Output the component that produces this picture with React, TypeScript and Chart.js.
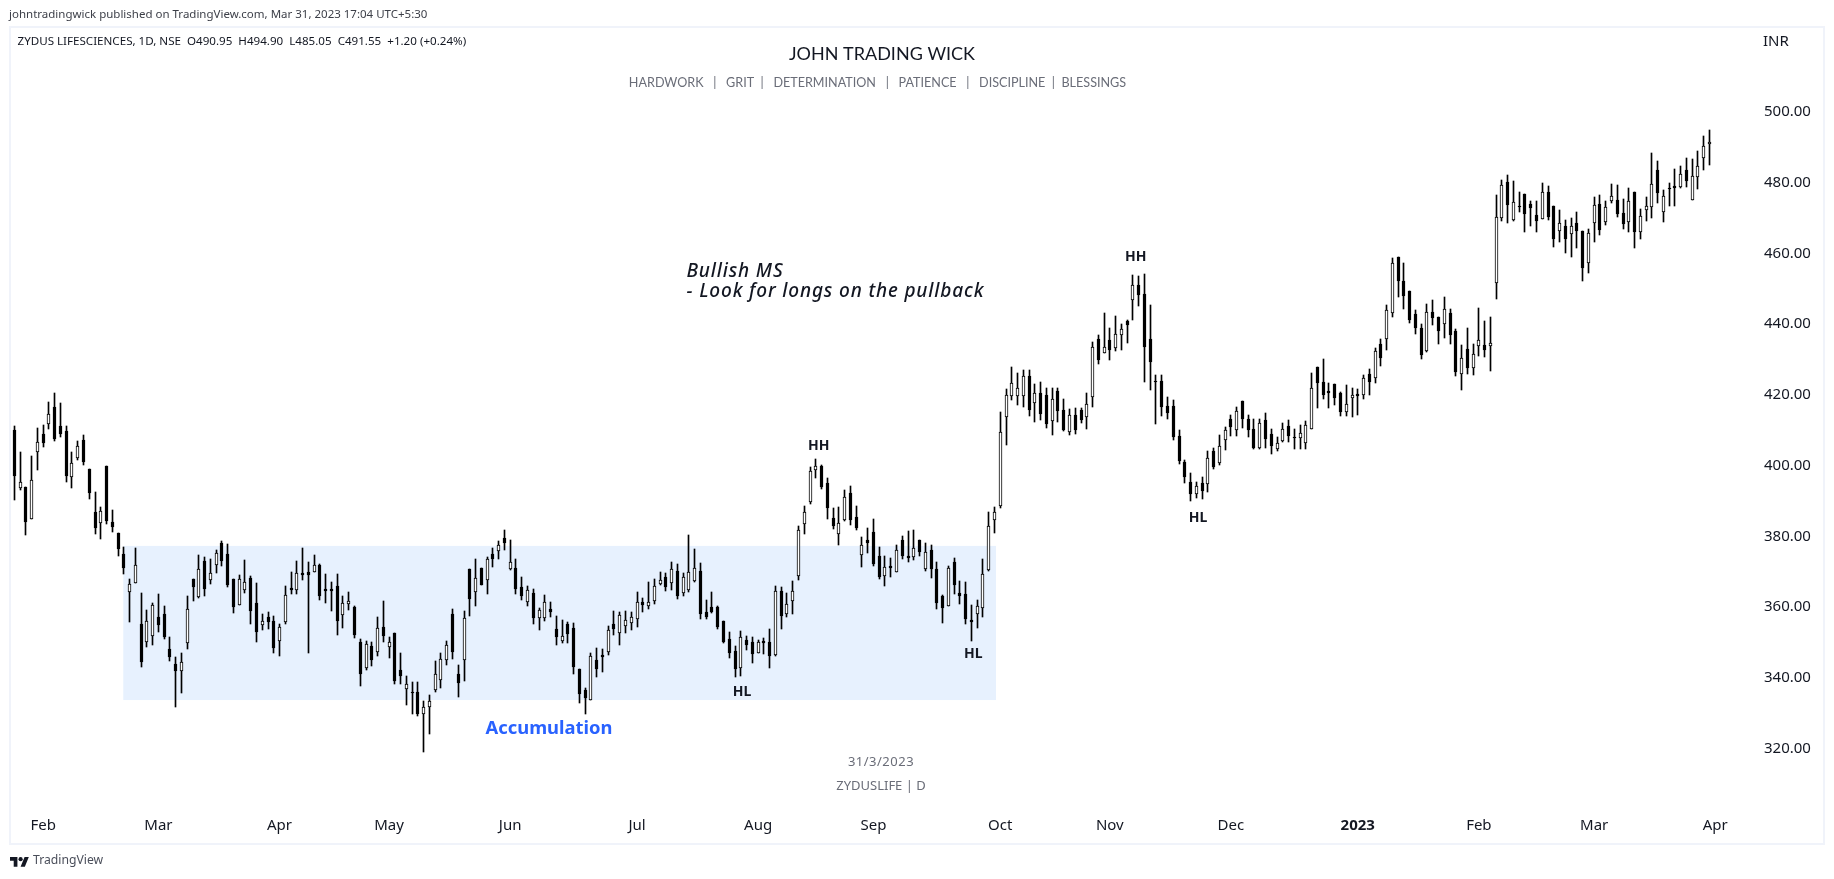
import { useEffect, useRef } from 'react'
import Chart from 'chart.js/auto'

const opens = [
  410.0, 393.7, 393.9, 385.0, 403.9, 408.9, 411.8, 416.6, 411.2, 409.8,
  396.7, 402.1, 407.2, 399.0, 386.8, 383.7, 399.9, 384.0, 380.9, 375.0,
  364.2, 366.7, 355.1, 350.0, 351.7, 357.1, 358.0, 348.1, 343.8, 341.8,
  349.8, 367.9, 362.8, 373.0, 367.6, 371.8, 378.1, 375.0, 367.9, 360.5,
  364.8, 368.2, 361.1, 354.9, 357.1, 356.0, 350.3, 355.7, 365.3, 364.8,
  369.6, 369.9, 369.9, 371.8, 365.0, 365.0, 365.9, 357.7, 360.8, 360.0,
  350.0, 342.7, 348.9, 347.2, 354.3, 348.6, 352.6, 342.1, 336.8, 335.9,
  335.9, 329.9, 331.6, 336.5, 339.3, 345.0, 358.0, 341.0, 345.0, 370.8,
  364.3, 371.0, 367.7, 375.0, 375.9, 379.5, 370.8, 371.0, 365.7, 361.4,
  364.0, 356.9, 356.9, 359.4, 353.8, 350.4, 355.2, 354.1, 342.5, 336.5,
  333.7, 345.0, 346.4, 347.3, 355.2, 352.7, 354.6, 355.5, 356.6, 361.4,
  360.3, 361.7, 366.5, 368.5, 366.8, 370.2, 364.0, 364.8, 367.4, 370.2,
  358.6, 360.0, 360.0, 356.0, 351.0, 347.6, 342.8, 350.7, 350.1, 347.0,
  350.4, 350.1, 346.4, 364.5, 358.0, 361.7, 368.8, 383.5, 389.7, 398.7,
  399.9, 395.1, 385.2, 380.6, 384.6, 392.2, 385.4, 374.7, 378.9, 381.2,
  374.4, 368.8, 371.6, 369.9, 378.9, 374.4, 374.1, 378.9, 370.7, 376.1,
  370.7, 363.1, 360.3, 372.7, 363.9, 363.7, 356.3, 358.0, 359.7, 370.4,
  384.6, 388.5, 413.7, 419.6, 419.6, 419.6, 425.3, 417.7, 420.5, 419.9,
  412.6, 421.1, 415.7, 409.5, 414.3, 415.7, 413.7, 419.4, 435.8, 431.8,
  435.5, 433.2, 436.9, 440.9, 446.8, 451.1, 448.5, 435.8, 423.9, 423.9,
  416.8, 416.8, 408.3, 401.0, 395.3, 391.9, 395.0, 394.7, 404.1, 400.7,
  407.2, 413.1, 410.0, 418.2, 413.1, 410.3, 404.9, 412.9, 408.9, 404.6,
  406.9, 411.2, 408.0, 407.8, 406.3, 410.3, 427.9, 423.6, 421.1, 423.0,
  420.5, 415.1, 419.1, 420.2, 419.9, 425.9, 424.7, 434.3, 435.8, 443.1,
  459.0, 452.2, 449.3, 442.8, 438.9, 432.4, 443.4, 442.0, 440.0, 443.1,
  438.0, 425.9, 432.9, 427.6, 433.8, 434.1, 433.8, 451.6, 470.0, 480.2,
  469.4, 473.4, 476.8, 474.0, 470.9, 469.7, 477.4, 473.4, 466.3, 467.7,
  465.5, 468.6, 466.3, 457.3, 468.6, 474.0, 468.9, 474.8, 475.1, 471.4,
  468.9, 477.4, 466.0, 472.3, 473.1, 483.6, 471.7, 478.5, 479.1, 478.8,
  483.6, 475.1, 481.6, 487.0, 490.95,
]

const closes = [
  397.1, 395.5, 384.1, 395.9, 406.7, 406.5, 414.6, 407.5, 408.9, 397.1,
  400.7, 405.5, 401.0, 392.2, 382.3, 387.1, 384.3, 382.6, 376.4, 371.0,
  366.5, 371.8, 344.4, 356.0, 360.5, 354.9, 351.5, 345.8, 341.8, 344.4,
  359.4, 365.6, 370.7, 365.0, 369.6, 375.2, 373.0, 366.2, 360.0, 367.9,
  367.0, 358.8, 352.9, 356.0, 355.7, 348.4, 354.3, 363.4, 364.8, 369.6,
  369.0, 369.0, 371.8, 363.1, 364.5, 364.5, 356.0, 361.1, 361.7, 352.0,
  341.0, 349.5, 345.0, 354.0, 351.7, 350.0, 339.0, 340.4, 338.2, 335.6,
  329.9, 331.6, 333.3, 341.0, 345.2, 349.2, 347.2, 338.4, 356.9, 362.3,
  368.2, 366.2, 373.6, 373.6, 377.6, 378.1, 372.8, 365.1, 363.1, 364.8,
  356.9, 359.2, 361.4, 358.6, 351.5, 351.8, 352.4, 343.0, 335.4, 334.3,
  346.1, 342.5, 345.9, 353.5, 353.8, 357.7, 356.3, 357.2, 361.4, 360.6,
  361.4, 366.0, 367.7, 365.7, 370.8, 363.1, 368.5, 369.9, 371.0, 358.0,
  357.2, 358.6, 354.4, 350.1, 347.0, 342.5, 351.5, 349.3, 346.7, 350.1,
  349.8, 346.1, 364.5, 357.5, 360.9, 364.5, 381.8, 386.9, 398.5, 399.9,
  393.9, 388.0, 382.9, 383.8, 391.1, 384.6, 382.3, 377.5, 378.1, 372.1,
  368.5, 371.3, 371.0, 376.1, 374.4, 373.8, 376.7, 375.5, 375.5, 370.7,
  361.1, 359.7, 371.0, 366.2, 363.1, 356.6, 355.7, 360.3, 369.3, 382.9,
  386.9, 409.5, 419.9, 423.3, 421.9, 425.3, 415.7, 420.5, 414.6, 411.7,
  418.8, 415.4, 410.0, 414.3, 410.0, 412.9, 417.4, 433.5, 429.8, 433.5,
  432.7, 437.2, 438.6, 439.7, 451.1, 448.2, 433.5, 429.3, 423.6, 416.5,
  414.8, 408.0, 401.3, 396.7, 391.9, 394.2, 392.8, 402.1, 399.6, 405.5,
  410.0, 410.9, 415.4, 413.1, 410.0, 404.9, 412.0, 407.5, 405.5, 406.3,
  410.3, 408.3, 407.8, 409.2, 411.4, 421.9, 423.3, 419.9, 420.5, 419.1,
  415.1, 417.4, 419.9, 419.6, 424.7, 423.6, 432.4, 430.4, 444.0, 457.3,
  452.2, 447.9, 441.1, 438.9, 431.2, 443.4, 441.7, 438.0, 444.3, 436.9,
  426.4, 430.4, 427.6, 431.5, 435.5, 432.6, 434.6, 470.3, 479.3, 473.7,
  474.5, 473.1, 471.1, 472.8, 469.2, 477.4, 470.3, 464.1, 468.6, 464.1,
  467.7, 466.3, 455.8, 465.8, 473.7, 466.6, 473.1, 476.2, 471.1, 468.3,
  474.8, 466.0, 470.6, 473.4, 479.6, 477.1, 476.2, 478.2, 478.5, 482.5,
  480.5, 481.9, 484.7, 490.4, 491.55,
]

const highs = [
  411.2, 403.8, 393.9, 402.7, 410.6, 411.5, 418.0, 420.5, 417.7, 411.2,
  403.8, 406.9, 408.6, 399.0, 392.5, 388.2, 399.9, 387.4, 380.9, 376.9,
  367.9, 376.7, 363.9, 359.1, 361.1, 363.6, 360.2, 351.5, 345.8, 346.9,
  363.1, 367.9, 374.7, 374.1, 373.6, 376.1, 378.6, 377.8, 367.9, 369.0,
  373.3, 368.7, 366.7, 358.0, 358.5, 357.4, 355.1, 365.9, 369.9, 373.0,
  376.7, 372.7, 374.7, 372.1, 369.3, 367.0, 369.3, 363.1, 364.2, 360.2,
  350.9, 350.3, 350.0, 357.1, 361.7, 351.5, 352.6, 346.9, 340.4, 338.7,
  338.7, 333.3, 335.0, 344.7, 346.9, 350.3, 359.4, 343.5, 358.9, 370.8,
  373.6, 371.0, 374.2, 376.7, 378.7, 381.8, 379.0, 373.6, 368.5, 366.0,
  365.1, 359.7, 363.4, 361.4, 357.5, 356.3, 355.8, 355.5, 342.5, 337.1,
  347.0, 348.4, 348.1, 354.6, 358.9, 358.6, 358.9, 358.6, 364.3, 362.6,
  367.1, 367.9, 369.9, 369.6, 372.8, 372.2, 369.6, 380.4, 376.4, 372.5,
  362.0, 364.3, 360.3, 356.0, 352.9, 349.0, 353.2, 351.8, 351.5, 350.7,
  351.2, 353.8, 366.0, 365.7, 364.0, 367.4, 382.9, 388.6, 399.6, 401.9,
  400.2, 396.5, 388.0, 388.3, 393.1, 394.2, 388.6, 379.8, 382.3, 384.9,
  377.0, 374.4, 373.8, 377.5, 380.1, 381.5, 381.8, 378.9, 378.1, 377.5,
  372.7, 363.4, 371.6, 373.8, 367.3, 367.1, 360.5, 362.0, 373.6, 386.9,
  388.3, 415.1, 421.6, 427.9, 426.2, 427.0, 427.0, 423.0, 423.6, 421.9,
  421.9, 421.9, 418.8, 416.0, 416.3, 416.3, 420.5, 434.9, 436.9, 443.1,
  438.9, 442.3, 440.0, 441.2, 453.9, 453.6, 454.2, 445.4, 425.6, 425.6,
  419.4, 418.5, 410.0, 401.5, 397.9, 395.3, 396.7, 404.1, 404.9, 408.6,
  410.9, 414.3, 416.5, 418.2, 414.3, 413.1, 413.1, 414.8, 410.3, 408.0,
  412.0, 412.9, 410.3, 411.4, 412.6, 426.2, 427.9, 430.1, 423.3, 423.0,
  420.8, 422.8, 421.9, 421.6, 425.6, 427.3, 433.2, 435.8, 445.4, 458.7,
  459.0, 457.3, 449.3, 444.0, 440.0, 445.7, 446.8, 442.0, 447.6, 444.3,
  438.6, 434.1, 438.9, 434.3, 444.5, 440.9, 442.0, 476.5, 480.8, 482.2,
  480.5, 477.4, 476.8, 474.8, 474.8, 479.9, 479.1, 473.4, 472.3, 469.4,
  470.0, 471.7, 466.3, 466.9, 475.9, 476.5, 474.8, 479.6, 479.3, 475.4,
  478.5, 477.4, 472.6, 476.0, 488.4, 486.1, 477.9, 479.9, 483.9, 484.7,
  487.0, 486.7, 489.0, 493.2, 494.9,
]

const lows = [
  390.2, 393.1, 380.3, 385.0, 398.7, 405.2, 410.3, 406.9, 408.1, 395.3,
  393.6, 401.6, 400.1, 390.5, 380.6, 379.2, 383.4, 381.2, 374.4, 369.3,
  355.7, 366.7, 343.0, 348.6, 349.2, 352.9, 350.9, 344.7, 331.6, 335.6,
  348.1, 361.7, 362.5, 363.1, 366.5, 369.6, 371.6, 365.6, 358.3, 360.5,
  363.9, 355.1, 350.0, 353.4, 353.7, 346.9, 346.1, 355.1, 363.6, 363.6,
  367.6, 346.9, 369.9, 361.9, 361.1, 358.8, 352.0, 354.0, 359.1, 351.2,
  337.6, 342.1, 343.3, 346.1, 350.0, 345.5, 338.2, 338.2, 332.2, 329.9,
  329.1, 318.9, 324.0, 335.9, 337.0, 343.5, 345.2, 334.5, 339.1, 357.5,
  360.3, 366.2, 363.7, 371.3, 373.6, 376.1, 370.5, 363.7, 362.0, 360.3,
  355.2, 353.5, 356.0, 357.2, 349.3, 349.8, 349.8, 341.0, 332.8, 329.7,
  333.7, 340.2, 341.6, 346.4, 352.1, 349.3, 352.7, 353.5, 354.4, 358.6,
  359.4, 360.9, 366.2, 364.5, 364.8, 362.3, 363.1, 364.3, 367.1, 356.6,
  356.6, 358.3, 353.8, 349.8, 345.6, 340.2, 340.5, 347.8, 344.2, 347.0,
  346.7, 342.8, 346.1, 353.8, 357.2, 358.0, 367.7, 380.6, 389.1, 396.5,
  393.4, 384.9, 382.1, 377.5, 384.3, 383.2, 381.8, 371.3, 375.3, 371.6,
  367.9, 365.9, 368.5, 369.9, 373.6, 372.7, 373.3, 374.4, 370.2, 368.2,
  359.4, 355.4, 360.3, 363.7, 360.8, 355.2, 350.4, 354.0, 357.1, 370.2,
  380.9, 387.9, 405.8, 418.5, 417.1, 416.5, 414.0, 412.3, 412.9, 410.6,
  408.6, 412.3, 409.7, 408.6, 408.9, 412.0, 410.3, 416.5, 428.7, 431.8,
  429.8, 432.4, 432.7, 434.6, 441.2, 445.1, 423.6, 421.3, 411.7, 414.0,
  413.1, 407.2, 400.4, 395.0, 389.9, 390.8, 390.5, 392.5, 399.0, 400.1,
  404.4, 408.3, 408.3, 410.6, 408.0, 404.6, 404.6, 404.9, 403.2, 404.1,
  406.6, 406.6, 404.6, 404.6, 404.6, 410.3, 416.3, 418.8, 416.3, 417.1,
  414.0, 414.0, 413.7, 414.3, 418.8, 419.9, 423.3, 428.1, 432.6, 442.0,
  447.6, 444.3, 440.3, 437.2, 430.1, 432.1, 439.7, 434.3, 436.0, 434.3,
  425.3, 421.3, 425.9, 425.6, 431.0, 430.7, 426.7, 447.1, 469.2, 468.6,
  469.2, 471.7, 466.0, 467.7, 466.0, 469.7, 469.4, 461.8, 463.2, 460.1,
  459.0, 461.5, 452.2, 454.4, 463.2, 465.2, 468.0, 474.2, 470.3, 466.9,
  466.0, 461.5, 464.1, 469.2, 470.0, 474.2, 468.9, 473.4, 473.4, 478.5,
  478.8, 475.1, 478.2, 483.6, 485.05,
]

const monthTicks = [5, 25, 46, 65, 86, 108, 129, 149, 171, 190, 211, 233, 254, 274, 295]
const monthLabels = ['Feb', 'Mar', 'Apr', 'May', 'Jun', 'Jul', 'Aug', 'Sep', 'Oct', 'Nov', 'Dec', '2023', 'Feb', 'Mar', 'Apr']
const priceTicks = [320, 340, 360, 380, 400, 420, 440, 460, 480, 500]

// candle index + price that the small structure notes sit on
const noteLabels = ['HH', 'HL', 'HL', 'HH', 'HL']
const noteIndex = [139.5, 126.2, 166.3, 194.5, 205.3]
const notePrice = [405.6, 336.1, 346.7, 458.9, 385.3]

const bandIndex = [18.9, 170.25]
const bandPrice = [333.7, 377.3]

const TEXT = '#131722'
const GREY = '#6a6d78'

const label = (ctx: CanvasRenderingContext2D, text: string, x: number, y: number, font: string, color: string, align: CanvasTextAlign = 'left', spacing = '0px') => {
  ctx.font = font
  ctx.fillStyle = color
  ctx.textAlign = align
  ctx.textBaseline = 'middle'
  ;(ctx as any).letterSpacing = spacing
  ctx.fillText(text, x, y)
  ;(ctx as any).letterSpacing = '0px'
}

export default function App() {
  const canvasRef = useRef<HTMLCanvasElement>(null)

  useEffect(() => {
    if (!canvasRef.current) return

    const idx = opens.map((_, i) => i)
    const chart = new Chart(canvasRef.current, {
      type: 'bar',
      data: {
        datasets: [
          {
            data: idx.map((i) => ({ x: i, y: [opens[i], closes[i]] })) as any,
            barThickness: 3,
            grouped: false,
            borderWidth: 1,
            borderSkipped: false,
            borderColor: '#000000',
            backgroundColor: idx.map((i) => (closes[i] < opens[i] ? '#000000' : '#ffffff')),
          },
          {
            data: idx.map((i) => ({ x: i, y: [lows[i], highs[i]] })) as any,
            barThickness: 1,
            grouped: false,
            borderWidth: 0,
            backgroundColor: '#000000',
          },
        ],
      },
      options: {
        responsive: false,
        animation: false,
        events: [],
        layout: { autoPadding: false, padding: { left: 10, top: 28, right: 10, bottom: 33 } },
        plugins: { legend: { display: false }, tooltip: { enabled: false }, title: { display: false } },
        scales: {
          x: {
            type: 'linear',
            offset: false,
            min: -0.746,
            max: 301.37,
            grid: { display: false, drawTicks: false },
            border: { display: false },
            afterBuildTicks: (axis: any) => {
              axis.ticks = monthTicks.map((value) => ({ value }))
            },
            afterFit: (axis: any) => {
              axis.height = 36
            },
            ticks: {
              autoSkip: false,
              maxRotation: 0,
              padding: 7,
              color: TEXT,
              font: (c: any) => ({ family: '"Noto Sans"', size: 15, weight: c.tick && c.tick.value === 233 ? 'bold' : 'normal' }),
              callback: (v: any) => monthLabels[monthTicks.indexOf(Number(v))] ?? '',
            },
          },
          y: {
            position: 'right',
            min: 302.61,
            max: 523.76,
            grid: { display: false, drawTicks: false },
            border: { display: false },
            afterBuildTicks: (axis: any) => {
              axis.ticks = priceTicks.map((value) => ({ value }))
            },
            afterFit: (axis: any) => {
              axis.width = 72
            },
            ticks: {
              padding: 12,
              color: TEXT,
              font: { family: '"Noto Sans"', size: 15 },
              callback: (v: any) => Number(v).toFixed(2),
            },
          },
        },
      },
      plugins: [
        {
          id: 'tvFrame',
          beforeDatasetsDraw: (c: any) => {
            const { ctx, scales } = c
            // the range box sits under the candles
            const bx = scales.x.getPixelForValue(bandIndex[0])
            const by = scales.y.getPixelForValue(bandPrice[1])
            ctx.save()
            ctx.fillStyle = '#e7f1fe'
            ctx.fillRect(bx, by, scales.x.getPixelForValue(bandIndex[1]) - bx, scales.y.getPixelForValue(bandPrice[0]) - by)
            ctx.restore()
            // snap bars to whole pixels so wicks stay crisp
            c.data.datasets.forEach((_: any, d: number) => {
              c.getDatasetMeta(d).data.forEach((bar: any, i: number) => {
                bar.x = Math.floor(scales.x.getPixelForValue(i)) + 0.5
                const top = Math.round(Math.min(bar.y, bar.base))
                const bottom = Math.round(Math.max(bar.y, bar.base))
                bar.y = top
                bar.base = bottom <= top ? top + 1 : bottom
              })
            })
          },
          afterDraw: (c: any) => {
            const { ctx, scales } = c
            ctx.save()
            ctx.strokeStyle = '#f0f3fa'
            ctx.lineWidth = 2
            ctx.strokeRect(10, 27, 1814, 817)

            label(ctx, 'johntradingwick published on TradingView.com, Mar 31, 2023 17:04 UTC+5:30', 9, 15, '11.5px "Noto Sans"', '#3c3f48')
            label(ctx, 'ZYDUS LIFESCIENCES, 1D, NSE  O490.95  H494.90  L485.05  C491.55  +1.20 (+0.24%)', 17.5, 42, '11.6px "Noto Sans"', TEXT)
            label(ctx, 'INR', 1763, 42, '15px "Noto Sans"', TEXT)

            label(ctx, 'JOHN TRADING WICK', 882, 54, '18px Lato', TEXT, 'center')
            label(ctx, 'HARDWORK   |   GRIT  |   DETERMINATION   |   PATIENCE   |   DISCIPLINE  |  BLESSINGS', 877.5, 83, '12.6px Lato', GREY, 'center')
            label(ctx, '31/3/2023', 881, 762, '13px "Noto Sans"', GREY, 'center', '0.5px')
            label(ctx, 'ZYDUSLIFE | D', 881, 786, '13px "Noto Sans"', GREY, 'center')

            noteLabels.forEach((t, i) => {
              label(ctx, t, scales.x.getPixelForValue(noteIndex[i]), scales.y.getPixelForValue(notePrice[i]), 'bold 14px "Noto Sans"', TEXT, 'center')
            })
            label(ctx, 'Accumulation', 485.5, 729, 'bold 18.4px "Noto Sans"', '#2962ff')
            label(ctx, 'Bullish MS', 686.5, 271.5, 'italic 500 19px "Noto Sans"', TEXT, 'left', '0.85px')
            label(ctx, '- Look for longs on the pullback', 686.5, 291.5, 'italic 500 19px "Noto Sans"', TEXT, 'left', '0.85px')

            // footer logo
            ctx.translate(10, 855)
            ctx.scale(0.53, 0.53)
            ctx.fillStyle = TEXT
            ctx.fill(new Path2D('M14 22H7V11H0V4h14v18zM28 22h-8l7.5-18h8L28 22z'))
            ctx.beginPath()
            ctx.arc(20, 8, 4, 0, Math.PI * 2)
            ctx.fill()
            ctx.restore()
            label(ctx, 'TradingView', 33, 861, '12.2px "Noto Sans"', '#4a4e5a')
          },
        },
      ],
    } as any)

    return () => {
      chart.destroy()
    }
  }, [])

  return (
    <div style={{ position: 'absolute', left: 0, top: 0, width: 1834, height: 879, background: '#ffffff' }}>
      <canvas ref={canvasRef} width={1834} height={879} style={{ display: 'block' }} />
    </div>
  )
}
